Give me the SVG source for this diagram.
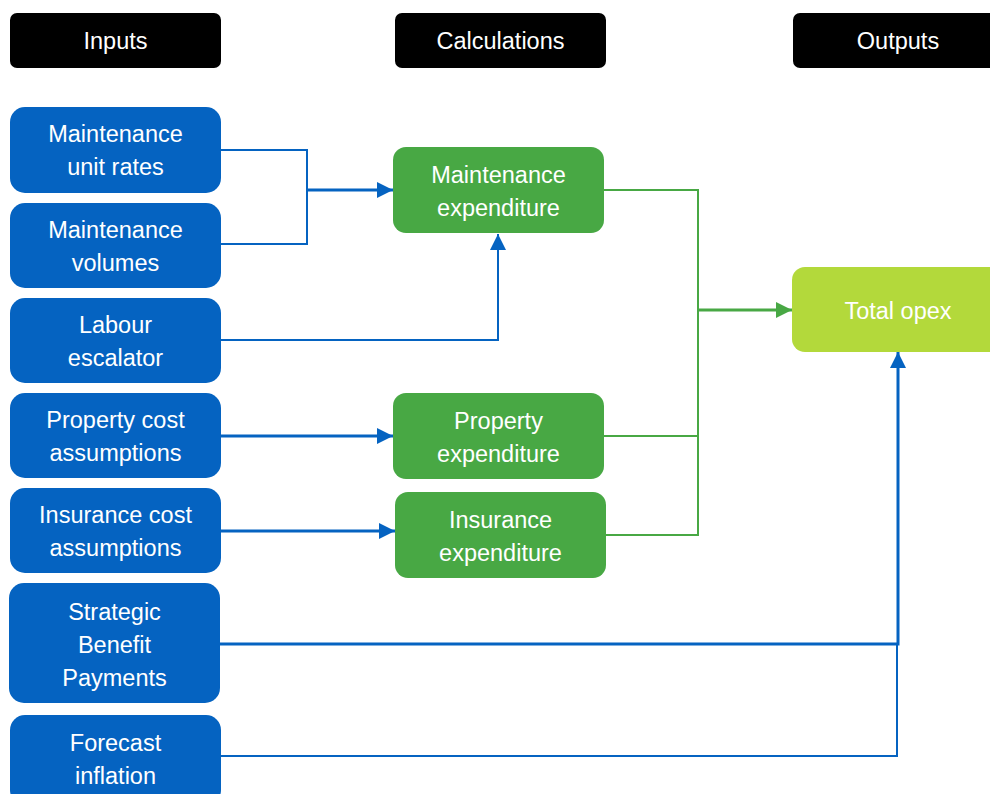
<svg xmlns="http://www.w3.org/2000/svg" width="990" height="794" viewBox="0 0 990 794">
  <style>
    .hdr { fill: #000000; }
    .inp { fill: #0563C1; }
    .calc { fill: #48A844; }
    .out { fill: #B3D93B; }
    text { font-family: "Liberation Sans", Arial, sans-serif; font-size: 23.5px; fill: #ffffff; text-anchor: middle; }
    .lb { fill: none; stroke: #0563C1; stroke-width: 2; }
    .lbt { fill: none; stroke: #0563C1; stroke-width: 3; }
    .lg { fill: none; stroke: #48A844; stroke-width: 2; }
    .lgt { fill: none; stroke: #48A844; stroke-width: 3; }
  </style>
  <defs>
    <marker id="ab" markerUnits="userSpaceOnUse" markerWidth="17" markerHeight="16" refX="16" refY="8" orient="auto">
      <path d="M0,0 L16,8 L0,16 Z" fill="#0563C1"/>
    </marker>
    <marker id="ag" markerUnits="userSpaceOnUse" markerWidth="17" markerHeight="16" refX="16" refY="8" orient="auto">
      <path d="M0,0 L16,8 L0,16 Z" fill="#48A844"/>
    </marker>
  </defs>

  <rect width="990" height="794" fill="#ffffff"/>

  <!-- column headers -->
  <g id="hdr-inputs"><rect class="hdr" x="10" y="13" width="211" height="55" rx="7"/><text x="115.5" y="49">Inputs</text></g>
  <g id="hdr-calculations"><rect class="hdr" x="395" y="13" width="211" height="55" rx="7"/><text x="500.5" y="49">Calculations</text></g>
  <g id="hdr-outputs"><rect class="hdr" x="793" y="13" width="211" height="55" rx="7"/><text x="898" y="49">Outputs</text></g>

  <!-- connectors -->
  <g id="connectors">
    <path class="lb" d="M221,150 H307 V244 H221"/>
    <path class="lbt" d="M307,190 H393" marker-end="url(#ab)"/>
    <path class="lb" d="M221,340 H498 V234" marker-end="url(#ab)"/>
    <path class="lbt" d="M221,436 H393" marker-end="url(#ab)"/>
    <path class="lbt" d="M221,531 H395" marker-end="url(#ab)"/>
    <path class="lg" d="M604,190 H698 V535 H606"/>
    <path class="lg" d="M604,436 H698"/>
    <path class="lgt" d="M698,310 H792" marker-end="url(#ag)"/>
    <path class="lbt" d="M220,644 H898 V352" marker-end="url(#ab)"/>
    <path class="lb" d="M221,756 H897 V644"/>
  </g>

  <!-- inputs -->
  <g id="in-unit-rates"><rect class="inp" x="10" y="107" width="211" height="86" rx="15"/><text x="115.5" y="142">Maintenance</text><text x="115.5" y="175">unit rates</text></g>
  <g id="in-volumes"><rect class="inp" x="10" y="203" width="211" height="85" rx="15"/><text x="115.5" y="238">Maintenance</text><text x="115.5" y="271">volumes</text></g>
  <g id="in-labour"><rect class="inp" x="10" y="298" width="211" height="85" rx="15"/><text x="115.5" y="333">Labour</text><text x="115.5" y="366">escalator</text></g>
  <g id="in-property"><rect class="inp" x="10" y="393" width="211" height="85" rx="15"/><text x="115.5" y="428">Property cost</text><text x="115.5" y="461">assumptions</text></g>
  <g id="in-insurance"><rect class="inp" x="10" y="488" width="211" height="85" rx="15"/><text x="115.5" y="523">Insurance cost</text><text x="115.5" y="556">assumptions</text></g>
  <g id="in-sbp"><rect class="inp" x="9" y="583" width="211" height="120" rx="15"/><text x="114.5" y="620">Strategic</text><text x="114.5" y="653">Benefit</text><text x="114.5" y="686">Payments</text></g>
  <g id="in-inflation"><rect class="inp" x="10" y="715" width="211" height="90" rx="15"/><text x="115.5" y="751">Forecast</text><text x="115.5" y="784">inflation</text></g>

  <!-- calculations -->
  <g id="calc-maintenance"><rect class="calc" x="393" y="147" width="211" height="86" rx="13"/><text x="498.5" y="183">Maintenance</text><text x="498.5" y="216">expenditure</text></g>
  <g id="calc-property"><rect class="calc" x="393" y="393" width="211" height="86" rx="13"/><text x="498.5" y="429">Property</text><text x="498.5" y="462">expenditure</text></g>
  <g id="calc-insurance"><rect class="calc" x="395" y="492" width="211" height="86" rx="13"/><text x="500.5" y="528">Insurance</text><text x="500.5" y="561">expenditure</text></g>

  <!-- output -->
  <g id="out-total-opex"><rect class="out" x="792" y="267" width="220" height="85" rx="13"/><text x="898" y="319">Total opex</text></g>
</svg>
